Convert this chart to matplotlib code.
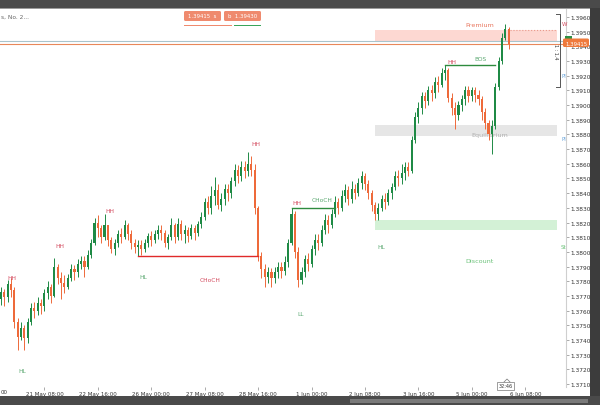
import matplotlib
matplotlib.use('Agg')
import matplotlib.pyplot as plt
from matplotlib.patches import Rectangle, FancyBboxPatch
from matplotlib.transforms import Affine2D

# 2-hour bars, open of each bar = close of the bar before
first_open = 1.3768
closes = [1.3773, 1.3769, 1.3778, 1.3774, 1.3752, 1.3742, 1.3748, 1.3741, 1.3752, 1.3762,
          1.3760, 1.3765, 1.3763, 1.3772, 1.3776, 1.3770, 1.3790, 1.3782, 1.3779, 1.3776,
          1.3782, 1.3788, 1.3786, 1.3792, 1.3794, 1.3790, 1.3798, 1.3806, 1.3820, 1.3816,
          1.3810, 1.3818, 1.3808, 1.3802, 1.3806, 1.3812, 1.3810, 1.3818, 1.3812, 1.3806,
          1.3803, 1.3805, 1.3802, 1.3806, 1.3811, 1.3808, 1.3812, 1.3815, 1.3813, 1.3806,
          1.3810, 1.3818, 1.3810, 1.3819, 1.3812, 1.3815, 1.3811, 1.3816, 1.3813, 1.3819,
          1.3824, 1.3834, 1.3830, 1.3838, 1.3842, 1.3832, 1.3836, 1.3843, 1.3840, 1.3848,
          1.3856, 1.3852, 1.3858, 1.3855, 1.3860, 1.3856, 1.3830, 1.3797, 1.3788, 1.3783,
          1.3786, 1.3782, 1.3786, 1.3790, 1.3787, 1.3793, 1.3806, 1.3826, 1.3800, 1.3781,
          1.3786, 1.3795, 1.3792, 1.3802, 1.3808, 1.3806, 1.3815, 1.3822, 1.3818, 1.3826,
          1.3834, 1.3830, 1.3838, 1.3842, 1.3836, 1.3843, 1.3840, 1.3847, 1.3852, 1.3846,
          1.3840, 1.3832, 1.3826, 1.3830, 1.3836, 1.3834, 1.3840, 1.3844, 1.3852, 1.3850,
          1.3854, 1.3858, 1.3855, 1.3876, 1.3892, 1.3898, 1.3906, 1.3903, 1.3910, 1.3908,
          1.3916, 1.3914, 1.3922, 1.3924, 1.3905, 1.3898, 1.3893, 1.3900, 1.3904, 1.3910,
          1.3906, 1.3910, 1.3907, 1.3904, 1.3895, 1.3888, 1.3880, 1.3886, 1.3912, 1.3930,
          1.3946, 1.3952, 1.39415]
highs = [1.3776, 1.3775, 1.3781, 1.3782, 1.3776, 1.3755, 1.3752, 1.3750, 1.3755, 1.3765,
         1.3766, 1.3769, 1.3768, 1.3775, 1.3780, 1.3778, 1.3796, 1.3792, 1.3786, 1.3784,
         1.3785, 1.3792, 1.3791, 1.3795, 1.3797, 1.3797, 1.3801, 1.3809, 1.3823, 1.3825,
         1.3818, 1.3826, 1.3818, 1.3810, 1.3809, 1.3815, 1.3816, 1.3822, 1.3820, 1.3815,
         1.3809, 1.3808, 1.3808, 1.3809, 1.3813, 1.3814, 1.3815, 1.3818, 1.3818, 1.3815,
         1.3812, 1.3823, 1.3820, 1.3823, 1.3822, 1.3818, 1.3817, 1.3819, 1.3818, 1.3821,
         1.3827, 1.3837, 1.3838, 1.3845, 1.3851, 1.3846, 1.3840, 1.3846, 1.3846, 1.3851,
         1.3860, 1.3859, 1.3862, 1.3862, 1.3868, 1.3865, 1.3860, 1.3831, 1.3800, 1.3792,
         1.3790, 1.3789, 1.3790, 1.3793, 1.3793, 1.3797, 1.3809, 1.3830, 1.3828, 1.3803,
         1.3790, 1.3798, 1.3799, 1.3805, 1.3812, 1.3812, 1.3818, 1.3826, 1.3825, 1.3829,
         1.3838, 1.3837, 1.3842, 1.3846, 1.3845, 1.3848, 1.3846, 1.3850, 1.3855, 1.3854,
         1.3849, 1.3842, 1.3834, 1.3833, 1.3839, 1.3840, 1.3843, 1.3847, 1.3855, 1.3856,
         1.3860, 1.3861, 1.3861, 1.3879, 1.3895, 1.3902, 1.3909, 1.3909, 1.3913, 1.3914,
         1.3919, 1.3920, 1.3925, 1.3927, 1.3925, 1.3908, 1.3902, 1.3903, 1.3907, 1.3913,
         1.3913, 1.3912, 1.3912, 1.3910, 1.3906, 1.3898, 1.3890, 1.3890, 1.3915, 1.3933,
         1.3949, 1.3955, 1.3953]
lows = [1.3764, 1.3763, 1.3766, 1.3769, 1.3748, 1.3733, 1.3740, 1.3733, 1.3738, 1.3750,
        1.3755, 1.3757, 1.3758, 1.3760, 1.3768, 1.3765, 1.3769, 1.3778, 1.3768, 1.3772,
        1.3775, 1.3780, 1.3781, 1.3783, 1.3788, 1.3783, 1.3788, 1.3796, 1.3805, 1.3810,
        1.3806, 1.3808, 1.3804, 1.3799, 1.3798, 1.3803, 1.3806, 1.3809, 1.3808, 1.3802,
        1.3799, 1.3797, 1.3798, 1.3800, 1.3803, 1.3804, 1.3806, 1.3809, 1.3808, 1.3803,
        1.3802, 1.3808, 1.3806, 1.3808, 1.3808, 1.3806, 1.3807, 1.3809, 1.3808, 1.3811,
        1.3816, 1.3822, 1.3826, 1.3826, 1.3832, 1.3829, 1.3828, 1.3832, 1.3835, 1.3837,
        1.3845, 1.3847, 1.3848, 1.3850, 1.3852, 1.3852, 1.3826, 1.3794, 1.3782, 1.3776,
        1.3779, 1.3776, 1.3779, 1.3782, 1.3782, 1.3784, 1.3790, 1.3805, 1.3796, 1.3776,
        1.3778, 1.3783, 1.3787, 1.3790, 1.3798, 1.3801, 1.3804, 1.3812, 1.3813, 1.3816,
        1.3824, 1.3826, 1.3828, 1.3834, 1.3832, 1.3833, 1.3836, 1.3838, 1.3843, 1.3842,
        1.3836, 1.3828, 1.3822, 1.3822, 1.3828, 1.3829, 1.3832, 1.3836, 1.3842, 1.3845,
        1.3846, 1.3849, 1.3852, 1.3854, 1.3874, 1.3888, 1.3894, 1.3898, 1.3900, 1.3903,
        1.3905, 1.3909, 1.3912, 1.3917, 1.3902, 1.3893, 1.3884, 1.3890, 1.3896, 1.3900,
        1.3902, 1.3903, 1.3902, 1.3900, 1.3890, 1.3884, 1.3876, 1.3867, 1.3884, 1.3910,
        1.3928, 1.3944, 1.3938]

price_ticks = [1.3960, 1.3950, 1.3940, 1.3930, 1.3920, 1.3910, 1.3900, 1.3890, 1.3880,
               1.3870, 1.3860, 1.3850, 1.3840, 1.3830, 1.3820, 1.3810, 1.3800, 1.3790,
               1.3780, 1.3770, 1.3760, 1.3750, 1.3740, 1.3730, 1.3720, 1.3710]
time_tick_bars = [13, 29, 45, 61, 77, 93, 109, 125, 141, 157]
time_tick_labels = ['21 May 08:00', '22 May 16:00', '26 May 00:00', '27 May 08:00',
                    '28 May 16:00', '1 Jun 00:00', '2 Jun 08:00', '3 Jun 16:00',
                    '5 Jun 00:00', '6 Jun 08:00']

# swing labels: text, bar, price, bearish?
swing_text = ['HH', 'HL', 'HH', 'HH', 'HL', 'CHoCH', 'HH', 'HH', 'LL', 'CHoCH', 'HL', 'HH', 'BOS']
swing_bar = [3.3, 6.3, 17.7, 32.6, 42.5, 62.6, 76.3, 88.6, 89.8, 96.1, 113.8, 135.0, 143.7]
swing_price = [1.37823, 1.37189, 1.38041, 1.38280, 1.37830, 1.37809, 1.38735, 1.38333,
               1.37577, 1.38354, 1.38034, 1.39294, 1.39314]
swing_bear = [True, False, True, True, False, True, True, True, False, False, False, True, False]

# structure lines: start bar, end bar, level, bearish?
struct_start = [41, 87, 133]
struct_end = [77, 100, 148]
struct_level = [1.3797, 1.3830, 1.3927]
struct_bear = [True, False, False]

# premium / equilibrium / discount zones
zone_names = ['Premium', 'Equilibrium', 'Discount']
zone_low = [1.39436, 1.38790, 1.38150]
zone_high = [1.39512, 1.38865, 1.38218]
zone_start, zone_end = 112, 166.5
last_price = 1.39415
ask_price = 1.39435

up_col, dn_col = '#1f8a45', '#ee6a3a'
bear_lbl, bull_lbl = '#d44a5e', '#5aa870'

W, H = 600, 406
fig = plt.figure(figsize=(6, 4.06), dpi=100)
pix = Affine2D().scale(1 / W, -1 / H).translate(0, 1) + fig.transFigure

ax = fig.add_axes([0, 18 / H, 566 / W, 378 / H])
ax.set_xlim(-0.3, 169.2)
ax.set_ylim(1.370796, 1.396545)

# zones
zone_fc = ['#fdd8d2', '#e6e6e6', '#d3f1d6']
for lo, hi, fc in zip(zone_low, zone_high, zone_fc):
    ax.add_patch(Rectangle((zone_start, lo), zone_end - zone_start, hi - lo,
                           fc=fc, ec='none', zorder=1))
ax.plot([152.3, zone_end], [zone_high[0], zone_high[0]], ls=':', lw=0.8, color='#e89a8c', zorder=2)
ax.text(143.4, 1.39552, zone_names[0], color='#e8765e', fontsize=4.6, ha='center', va='center')
ax.text(146.4, 1.38797, zone_names[1], color='#b0b0b0', fontsize=4.6, ha='center', va='center')
ax.text(143.4, 1.37944, zone_names[2], color='#6cc27a', fontsize=4.6, ha='center', va='center')

# price lines
ax.axhline(ask_price, color='#a9c4cc', lw=0.8, zorder=2)
ax.axhline(last_price, color='#e8875a', lw=0.8, zorder=2)

# candles
opens = [first_open] + closes[:-1]
for i, (o, h, l, c) in enumerate(zip(opens, highs, lows, closes)):
    col = up_col if c >= o else dn_col
    hi = max(h, o, c)
    lo = min(l, o, c)
    ax.vlines(i, lo, hi, color=col, lw=0.7, zorder=3)
    ax.bar(i, max(abs(c - o), 0.00004), bottom=min(o, c), width=0.62,
           color=col, lw=0, zorder=4)

# structure lines and labels
for s, e, lv, bear in zip(struct_start, struct_end, struct_level, struct_bear):
    ax.plot([s, e], [lv, lv], color='#e02a2a' if bear else '#2e8b3e', lw=1.0, zorder=5)
for t, b, p, bear in zip(swing_text, swing_bar, swing_price, swing_bear):
    ax.text(b, p, t, color=bear_lbl if bear else bull_lbl, fontsize=4.2,
            ha='center', va='center', zorder=6)

# axes styling
for side in ['top', 'left', 'bottom']:
    ax.spines[side].set_visible(False)
ax.spines['right'].set_color('#cfcfcf')
ax.spines['right'].set_linewidth(0.8)
ax.yaxis.tick_right()
ax.set_yticks(price_ticks)
ax.set_yticklabels(['%.4f' % v for v in price_ticks])
ax.tick_params(axis='y', length=2, width=0.5, color='#888888', labelsize=4.2,
               labelcolor='#333333', pad=1)
ax.set_xticks(time_tick_bars)
ax.set_xticklabels(time_tick_labels)
ax.tick_params(axis='x', length=2, width=0.5, color='#888888', labelsize=4.0,
               labelcolor='#333333', pad=0.8)
# the label of the first day is cut by the left edge, only its minutes show
fig.text(1, 392.5, '00', transform=pix, fontsize=4.0, color='#333333', va='center')

# window chrome
fig.patches.append(Rectangle((0, 0), W, 9, fc='#4a4a4a', ec='none', transform=pix, figure=fig))
fig.patches.append(Rectangle((0, 9), W, 1.2, fc='#9a9a9a', ec='none', transform=pix, figure=fig))
fig.patches.append(Rectangle((0, 397), W, 9, fc='#4a4a4a', ec='none', transform=pix, figure=fig))
fig.patches.append(Rectangle((350, 399.5), 238, 4, fc='#7a7a7a', ec='none', transform=pix, figure=fig))
fig.patches.append(Rectangle((590, 9), 10, 388, fc='#3c3c3c', ec='none', transform=pix, figure=fig))

fig.text(1, 17, 's, No. 2...', transform=pix, fontsize=4.2, color='#666666', va='center')

# trade buttons
fig.patches.append(FancyBboxPatch((184, 12), 37, 10, boxstyle='round,pad=0,rounding_size=1.5',
                                  fc='#ef8a6e', ec='none', transform=pix, figure=fig))
fig.patches.append(FancyBboxPatch((224, 12), 37, 10, boxstyle='round,pad=0,rounding_size=1.5',
                                  fc='#ef8a6e', ec='none', transform=pix, figure=fig))
fig.text(202, 17, '1.39415  s', transform=pix, fontsize=3.9, color='white', ha='center', va='center')
fig.text(243, 17, 'b  1.39430', transform=pix, fontsize=3.9, color='white', ha='center', va='center')
fig.patches.append(Rectangle((184, 25.5), 48, 1.6, fc='#ef8a6e', ec='none', transform=pix, figure=fig))
fig.patches.append(Rectangle((234, 25.5), 27, 1.6, fc='#3aa55a', ec='none', transform=pix, figure=fig))

# right-side bracket and tags
fig.lines.append(plt.Line2D([556, 560, 560, 556], [15, 15, 88, 88], color='#555555', lw=0.7,
                            transform=pix, figure=fig))
fig.text(555, 52, '1 : 1.4', transform=pix, fontsize=3.5, color='#333333', rotation=270,
         ha='center', va='center')
fig.text(562, 25, 'W', transform=pix, fontsize=4, color='#d44a5e', va='center')
fig.text(561, 76, 'PI', transform=pix, fontsize=4, color='#6fa8dc', va='center')
fig.text(561, 140, 'PI', transform=pix, fontsize=4, color='#6fa8dc', va='center')
fig.text(561, 248, 'St', transform=pix, fontsize=4, color='#6cc27a', va='center')

# current price tag
fig.patches.append(Rectangle((565, 37), 7, 3, fc='#2f8f45', ec='none', transform=pix, figure=fig))
fig.patches.append(FancyBboxPatch((563, 39.5), 26, 8.5, boxstyle='round,pad=0,rounding_size=1.5',
                                  fc='#ef7a3c', ec='none', transform=pix, figure=fig))
fig.text(576, 44, '1.39415', transform=pix, fontsize=3.9, color='white', ha='center', va='center')

# bar countdown
fig.patches.append(Rectangle((497, 383), 17, 8, fc='white', ec='#777777', lw=0.5, transform=pix, figure=fig))
fig.lines.append(plt.Line2D([504, 507, 510], [383, 380, 383], color='#777777', lw=0.5,
                            transform=pix, figure=fig))
fig.text(505.5, 387, '32:46', transform=pix, fontsize=3.6, color='#333333', ha='center', va='center')

fig.savefig('out.png', dpi=100)
